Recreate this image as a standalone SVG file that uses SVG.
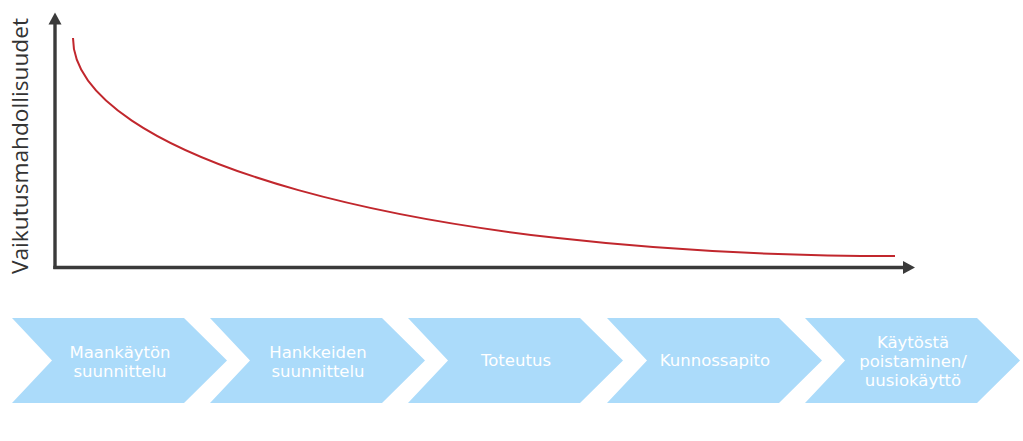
<svg xmlns="http://www.w3.org/2000/svg" width="1023" height="441" viewBox="0 0 1023 441">
  <style>
    .chev { fill: #abdbfa; }
    .lbl { font-family: "DejaVu Sans", Verdana, sans-serif; font-size: 16.5px; fill: #ffffff; text-anchor: middle; }
    .axis { stroke: #3a3a3a; stroke-width: 3.4; fill: none; }
    .curve { stroke: #c1272d; stroke-width: 2; fill: none; }
  </style>
  <defs>
    <marker id="arrow" markerUnits="userSpaceOnUse" markerWidth="12" markerHeight="13" viewBox="0 0 12 13" refX="0.5" refY="6.5" orient="auto" overflow="visible">
      <path d="M0,0 L12,6.5 L0,13 Z" fill="#3a3a3a"/>
    </marker>
  </defs>
  <rect width="1023" height="441" fill="#ffffff"/>

  <g id="connectors">
    <path id="y-axis" class="axis" d="M55,269 L55,24" marker-end="url(#arrow)"/>
    <path id="x-axis" class="axis" d="M53.3,267.5 L903.5,267.5" marker-end="url(#arrow)"/>
    <path id="impact-curve" class="curve" d="M73,38 C73,153 400,256 895,256"/>
  </g>

  <text id="y-label" transform="translate(28,146) rotate(-90)" font-family="'Open Sans', 'Liberation Sans', sans-serif" font-size="21" fill="#333333" text-anchor="middle" textLength="256" lengthAdjust="spacingAndGlyphs">Vaikutusmahdollisuudet</text>

  <g id="node-maankaytto">
    <polygon class="chev" points="12,318 184,318 227,360.5 184,403 12,403 52,360.5"/>
    <text class="lbl" x="120" y="358">Maankäytön</text>
    <text class="lbl" x="120" y="377">suunnittelu</text>
  </g>
  <g id="node-hankkeet">
    <polygon class="chev" points="210,318 382,318 425,360.5 382,403 210,403 250,360.5"/>
    <text class="lbl" x="318" y="358">Hankkeiden</text>
    <text class="lbl" x="318" y="377">suunnittelu</text>
  </g>
  <g id="node-toteutus">
    <polygon class="chev" points="408,318 580,318 623,360.5 580,403 408,403 448,360.5"/>
    <text class="lbl" x="516" y="366">Toteutus</text>
  </g>
  <g id="node-kunnossapito">
    <polygon class="chev" points="607,318 779,318 822,360.5 779,403 607,403 647,360.5"/>
    <text class="lbl" x="715" y="366">Kunnossapito</text>
  </g>
  <g id="node-kaytosta">
    <polygon class="chev" points="805,318 977,318 1020,360.5 977,403 805,403 845,360.5"/>
    <text class="lbl" x="913" y="348">Käytöstä</text>
    <text class="lbl" x="913" y="367">poistaminen/</text>
    <text class="lbl" x="913" y="386">uusiokäyttö</text>
  </g>
</svg>
